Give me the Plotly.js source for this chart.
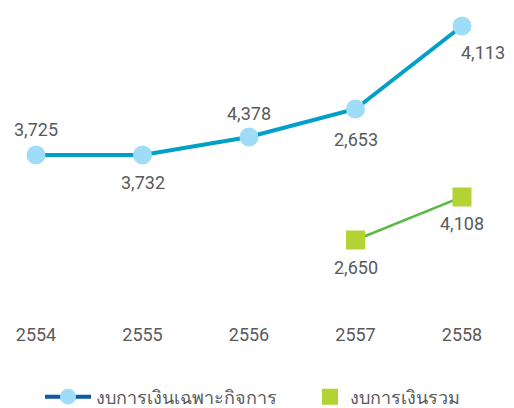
<!DOCTYPE html>
<html><head><meta charset="utf-8">
<script src="https://cdn.plot.ly/plotly-3.0.1.min.js"></script>
<style>html,body{margin:0;padding:0;background:#fff}#chart{width:514px;height:408px}</style>
</head><body><div id="chart"></div>
<script>
const years = ['2554','2555','2556','2557','2558'];
// plotted heights (as drawn in the picture, arbitrary scale 0-300)
const separateLevel = [145, 145, 163, 191, 274];
const separateLabels = ['3,725','3,732','4,378','2,653','4,113'];
const consolidatedLevel = [null, null, null, 60, 103];
const consolidatedLabels = ['', '', '', '2,650', '4,108'];
const seriesNames = ['งบการเงินเฉพาะกิจการ', 'งบการเงินรวม'];

const txtFont = {family: 'Roboto, "Noto Sans", sans-serif', size: 18, color: '#5a5a5a'};

// label placement (style): offsets in px
const sepShift = [[0, 26], [0, -27], [0, 24], [0, -30], [21, -26]];
const conShift = [[0, 0], [0, 0], [0, 0], [0, -27], [0, -26]];

const annotations = [];
for (let i = 0; i < years.length; i++) {
  annotations.push({x: i, y: separateLevel[i], xref: 'x', yref: 'y', text: separateLabels[i],
    showarrow: false, xshift: sepShift[i][0], yshift: sepShift[i][1], font: txtFont});
  if (consolidatedLevel[i] !== null) {
    annotations.push({x: i, y: consolidatedLevel[i], xref: 'x', yref: 'y', text: consolidatedLabels[i],
      showarrow: false, xshift: conShift[i][0], yshift: conShift[i][1], font: txtFont});
  }
}

const traces = [
  {x: years, y: separateLevel, mode: 'lines+markers', cliponaxis: false,
   line: {color: '#00a0c8', width: 4}, marker: {color: '#9fdcf7', size: 19, symbol: 'circle'},
   showlegend: false, hoverinfo: 'skip'},
  {x: years, y: consolidatedLevel, mode: 'lines+markers', cliponaxis: false,
   line: {color: '#5bb947', width: 2.5}, marker: {color: '#b3d334', size: 19, symbol: 'square'},
   showlegend: false, hoverinfo: 'skip', connectgaps: false},
  {x: [years[0]], y: [null], mode: 'lines+markers', name: seriesNames[0], legend: 'legend',
   line: {color: '#0b5aa6', width: 4}, marker: {color: '#9fdcf7', size: 19, symbol: 'circle'}},
  {x: [years[0]], y: [null], mode: 'markers', name: seriesNames[1], legend: 'legend2',
   marker: {color: '#b3d334', size: 19, symbol: 'square'}}
];

const legendY = 1 - 397 / 408;
const layout = {
  width: 514, height: 408,
  margin: {l: 36, r: 52, t: 0, b: 108},
  paper_bgcolor: '#fff', plot_bgcolor: '#fff',
  xaxis: {type: 'category', range: [0, 4], showgrid: false, zeroline: false, showline: false,
          ticks: '', tickfont: txtFont, ticklabelstandoff: 22, automargin: false},
  yaxis: {range: [0, 300], visible: false, fixedrange: true},
  showlegend: true,
  legend: {orientation: 'h', xref: 'container', yref: 'container',
           x: 40 / 514, xanchor: 'left', y: legendY, yanchor: 'middle',
           font: txtFont, itemwidth: 46},
  legend2: {orientation: 'h', xref: 'container', yref: 'container',
           x: 310 / 514, xanchor: 'left', y: legendY, yanchor: 'middle',
           font: txtFont},
  annotations: annotations,
  font: txtFont
};
Plotly.newPlot('chart', traces, layout, {displayModeBar: false, staticPlot: true});
</script></body></html>
